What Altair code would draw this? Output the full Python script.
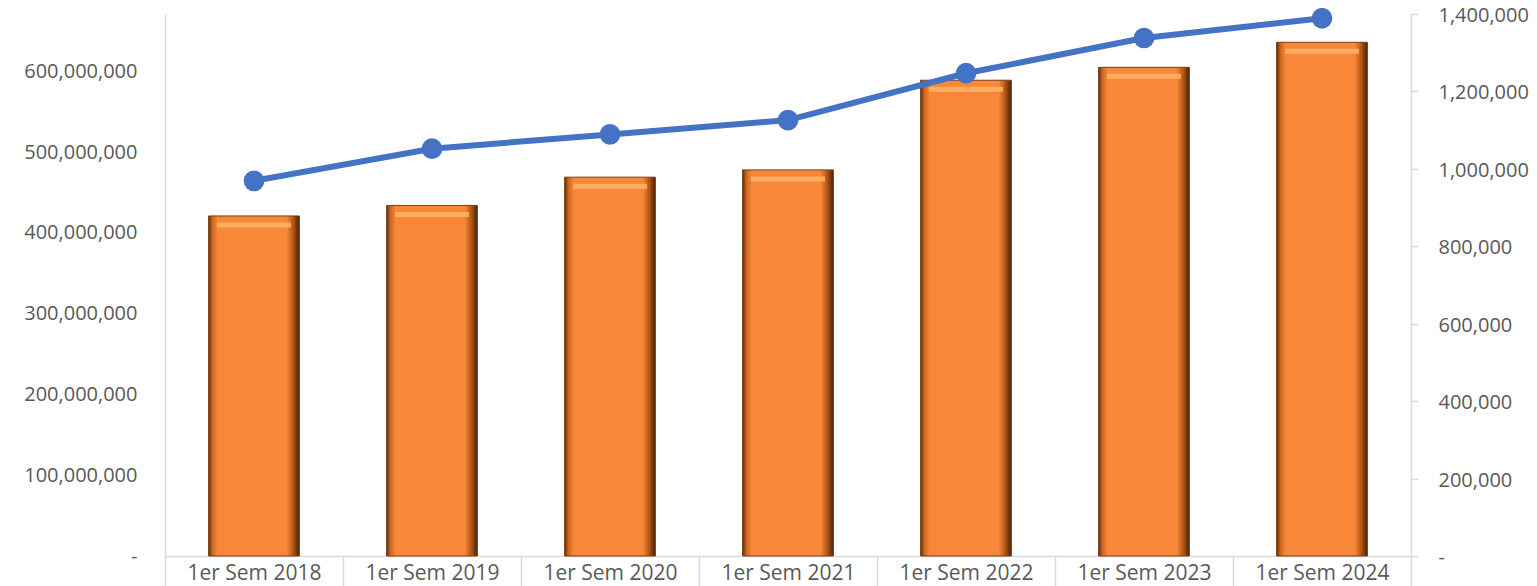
import altair as alt
import pandas as pd

categories = ["1er Sem 2018", "1er Sem 2019", "1er Sem 2020", "1er Sem 2021",
              "1er Sem 2022", "1er Sem 2023", "1er Sem 2024"]
montos = [421e6, 434e6, 469e6, 478e6, 589e6, 605e6, 636e6]
avalados = [969000, 1052000, 1089000, 1126000, 1247000, 1338000, 1389000]
left_ticks = [0, 100e6, 200e6, 300e6, 400e6, 500e6, 600e6]
right_ticks = [0, 200000, 400000, 600000, 800000, 1000000, 1200000, 1400000]

df = pd.DataFrame({"cat": categories, "monto": montos, "avalados": avalados})

FONT = "Open Sans"
GRAY = "#595959"
LINE = "#d9d9d9"

x_axis = alt.Axis(labelAngle=0, labelFont=FONT, labelFontSize=21, orient="bottom",
                  labelColor=GRAY, domainColor=LINE, domainWidth=1.5,
                  tickColor=LINE, tickWidth=1.5, tickSize=30,
                  tickBand="extent", labelPadding=-24, labelBaseline="top")
x_enc = alt.X("cat:N", sort=categories, title=None,
              scale=alt.Scale(paddingInner=0, paddingOuter=0), axis=x_axis)

left_axis = alt.Axis(values=left_ticks, ticks=False, grid=False, orient="left",
                     labelFont=FONT, labelFontSize=20, labelColor=GRAY,
                     labelPadding=28, domainColor=LINE, domainWidth=1.5,
                     labelExpr="datum.value == 0 ? '-' : format(datum.value, ',')")
y_left = alt.Y("monto:Q", title=None, axis=left_axis,
               scale=alt.Scale(domain=[0, 671e6], nice=False, zero=True))

right_axis = alt.Axis(values=right_ticks, ticks=True, tickSize=7, tickColor=LINE,
                      tickWidth=1.5, grid=False, orient="right",
                      labelFont=FONT, labelFontSize=20, labelColor=GRAY,
                      labelPadding=20, labelOffset=1.5, domainColor=LINE, domainWidth=1.5,
                      labelExpr="datum.value == 0 ? '-' : format(datum.value, ',')")
y_right = alt.Y("avalados:Q", title=None, axis=right_axis,
                scale=alt.Scale(domain=[0, 1400000], nice=False, zero=True))

grad = alt.LinearGradient(
    gradient="linear", x1=0, x2=1, y1=0, y2=0,
    stops=[
        alt.GradientStop(offset=0.0, color="#5e2c0a"),
        alt.GradientStop(offset=0.04, color="#c9651f"),
        alt.GradientStop(offset=0.10, color="#f8873a"),
        alt.GradientStop(offset=0.86, color="#f8873a"),
        alt.GradientStop(offset=0.93, color="#b65717"),
        alt.GradientStop(offset=1.0, color="#4a2206"),
    ])

base = alt.Chart(df)

bars = base.mark_bar(color=grad, stroke="#7a3d12", strokeWidth=1,
                     width=alt.RelativeBandSize(0.51)).encode(x=x_enc, y=y_left)
top_hl = base.mark_tick(color="#fdb565", thickness=5, size=74, yOffset=9,
                        opacity=0.85).encode(x=x_enc, y=y_left)

line = base.mark_line(color="#4472C4", strokeWidth=6).encode(x=x_enc, y=y_right)
pts = base.mark_circle(color="#4472C4", size=430, opacity=1).encode(x=x_enc, y=y_right)

left_layer = alt.layer(bars, top_hl)
right_layer = alt.layer(line, pts)

chart = alt.layer(left_layer, right_layer).resolve_scale(y="independent").properties(
    width=1246, height=542,
    background="white",
    autosize=alt.AutoSizeParams(type="none"),
    padding={"left": 157, "top": 6, "right": 118, "bottom": 30},
    title=alt.Title("Evolución de los Avalados en M US$", font=FONT, fontSize=43,
                    fontWeight="normal", color=GRAY, anchor="middle", frame="group",
                    baseline="alphabetic", offset=-12, dx=-72),
).configure_view(stroke="transparent", strokeWidth=0)

chart.save("out.html", embed_options={"renderer": "svg", "actions": False})
